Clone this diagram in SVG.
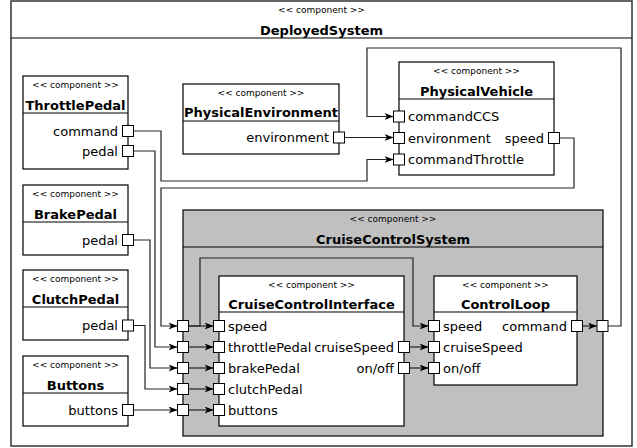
<svg xmlns="http://www.w3.org/2000/svg" width="637" height="448" viewBox="0 0 637 448">
<defs>
<marker id="arr" markerUnits="userSpaceOnUse" markerWidth="10" markerHeight="8" refX="9" refY="3.5" orient="auto">
<path d="M0,0 L9,3.5 L0,7 L2.5,3.5 z" fill="#000"/>
</marker>
<style>
.box{fill:#fff;stroke:#000;stroke-width:1.2}
.grey{fill:#c0c0c0;stroke:#000;stroke-width:1.2}
.outer{fill:#fff;stroke:#333;stroke-width:1.5}
.sep{stroke:#000;stroke-width:1.2;fill:none}
.port{fill:#fff;stroke:#000;stroke-width:1}
.cc{font-family:"DejaVu Sans",sans-serif;font-size:9px;text-anchor:middle;fill:#000}
.nm{font-family:"DejaVu Sans",sans-serif;font-size:13px;font-weight:bold;text-anchor:middle;fill:#000}
.pl{font-family:"DejaVu Sans",sans-serif;font-size:13px;fill:#000}
.r{text-anchor:end}
.c{fill:none;stroke:#222;stroke-width:1.2}
.a{marker-end:url(#arr)}
</style>
</defs>

<g id="DeployedSystem">
<rect class="outer" x="11" y="1" width="621" height="445"/>
<line class="sep" x1="11" y1="38" x2="632" y2="38"/>
<text class="cc" x="321.5" y="13">&lt;&lt; component &gt;&gt;</text>
<text class="nm" x="321.5" y="35">DeployedSystem</text>
</g>

<g id="ThrottlePedal">
<rect class="box" x="23" y="76" width="105" height="93"/>
<line class="sep" x1="23" y1="113" x2="128" y2="113"/>
<text class="cc" x="75.5" y="88">&lt;&lt; component &gt;&gt;</text>
<text class="nm" x="75.5" y="110">ThrottlePedal</text>
<text class="pl r" x="118" y="135.5">command</text>
<text class="pl r" x="118" y="155.5">pedal</text>
<rect class="port" x="122.5" y="125.5" width="11" height="11"/>
<rect class="port" x="122.5" y="145.5" width="11" height="11"/>
</g>

<g id="BrakePedal">
<rect class="box" x="23" y="185" width="105" height="70"/>
<line class="sep" x1="23" y1="222" x2="128" y2="222"/>
<text class="cc" x="75.5" y="197">&lt;&lt; component &gt;&gt;</text>
<text class="nm" x="75.5" y="219">BrakePedal</text>
<text class="pl r" x="118" y="244.5">pedal</text>
<rect class="port" x="122.5" y="234.5" width="11" height="11"/>
</g>

<g id="ClutchPedal">
<rect class="box" x="23" y="270" width="105" height="70"/>
<line class="sep" x1="23" y1="307" x2="128" y2="307"/>
<text class="cc" x="75.5" y="282">&lt;&lt; component &gt;&gt;</text>
<text class="nm" x="75.5" y="304">ClutchPedal</text>
<text class="pl r" x="118" y="330">pedal</text>
<rect class="port" x="122.5" y="320" width="11" height="11"/>
</g>

<g id="Buttons">
<rect class="box" x="23" y="356" width="105" height="70"/>
<line class="sep" x1="23" y1="393" x2="128" y2="393"/>
<text class="cc" x="75.5" y="368">&lt;&lt; component &gt;&gt;</text>
<text class="nm" x="75.5" y="390">Buttons</text>
<text class="pl r" x="118" y="414.5">buttons</text>
<rect class="port" x="122.5" y="404.5" width="11" height="11"/>
</g>

<g id="PhysicalEnvironment">
<rect class="box" x="183" y="84" width="156" height="70"/>
<line class="sep" x1="183" y1="121" x2="339" y2="121"/>
<text class="cc" x="261" y="96">&lt;&lt; component &gt;&gt;</text>
<text class="nm" x="261" y="117">PhysicalEnvironment</text>
<text class="pl r" x="329" y="142">environment</text>
<rect class="port" x="333.5" y="132" width="11" height="11"/>
</g>

<g id="PhysicalVehicle">
<rect class="box" x="399" y="62" width="155" height="113"/>
<line class="sep" x1="399" y1="99" x2="554" y2="99"/>
<text class="cc" x="476.5" y="74">&lt;&lt; component &gt;&gt;</text>
<text class="nm" x="476.5" y="96">PhysicalVehicle</text>
<text class="pl" x="408" y="121">commandCCS</text>
<text class="pl" x="408" y="142.5">environment</text>
<text class="pl" x="408" y="164">commandThrottle</text>
<text class="pl r" x="544" y="142.5">speed</text>
<rect class="port" x="393.5" y="111" width="11" height="11"/>
<rect class="port" x="393.5" y="132.5" width="11" height="11"/>
<rect class="port" x="393.5" y="154" width="11" height="11"/>
<rect class="port" x="548.5" y="132.5" width="11" height="11"/>
</g>

<g id="CruiseControlSystem">
<rect class="grey" x="183" y="210" width="420" height="226"/>
<line class="sep" x1="183" y1="247" x2="603" y2="247"/>
<text class="cc" x="393" y="222">&lt;&lt; component &gt;&gt;</text>
<text class="nm" x="393" y="244">CruiseControlSystem</text>
<rect class="port" x="177.5" y="320.5" width="11" height="11"/>
<rect class="port" x="177.5" y="341.5" width="11" height="11"/>
<rect class="port" x="177.5" y="362.5" width="11" height="11"/>
<rect class="port" x="177.5" y="383.5" width="11" height="11"/>
<rect class="port" x="177.5" y="404.5" width="11" height="11"/>
<rect class="port" x="597" y="320.5" width="11" height="11"/>
</g>

<g id="CruiseControlInterface">
<rect class="box" x="219" y="276" width="185" height="150"/>
<line class="sep" x1="219" y1="312" x2="404" y2="312"/>
<text class="cc" x="311.5" y="288">&lt;&lt; component &gt;&gt;</text>
<text class="nm" x="311.5" y="309">CruiseControlInterface</text>
<text class="pl" x="228" y="330.5">speed</text>
<text class="pl" x="228" y="351.5">throttlePedal</text>
<text class="pl" x="228" y="372.5">brakePedal</text>
<text class="pl" x="228" y="393.5">clutchPedal</text>
<text class="pl" x="228" y="414.5">buttons</text>
<text class="pl r" x="394" y="351.5">cruiseSpeed</text>
<text class="pl r" x="394" y="372.5">on/off</text>
<rect class="port" x="213.5" y="320.5" width="11" height="11"/>
<rect class="port" x="213.5" y="341.5" width="11" height="11"/>
<rect class="port" x="213.5" y="362.5" width="11" height="11"/>
<rect class="port" x="213.5" y="383.5" width="11" height="11"/>
<rect class="port" x="213.5" y="404.5" width="11" height="11"/>
<rect class="port" x="398.5" y="341.5" width="11" height="11"/>
<rect class="port" x="398.5" y="362.5" width="11" height="11"/>
</g>

<g id="ControlLoop">
<rect class="box" x="434" y="276" width="143" height="109"/>
<line class="sep" x1="434" y1="312" x2="577" y2="312"/>
<text class="cc" x="505.5" y="288">&lt;&lt; component &gt;&gt;</text>
<text class="nm" x="505.5" y="309">ControlLoop</text>
<text class="pl" x="443" y="330.5">speed</text>
<text class="pl" x="443" y="351.5">cruiseSpeed</text>
<text class="pl" x="443" y="372.5">on/off</text>
<text class="pl r" x="567" y="330.5">command</text>
<rect class="port" x="428.5" y="320.5" width="11" height="11"/>
<rect class="port" x="428.5" y="341.5" width="11" height="11"/>
<rect class="port" x="428.5" y="362.5" width="11" height="11"/>
<rect class="port" x="571.5" y="320.5" width="11" height="11"/>
</g>

<g id="connectors">
<polyline class="c a" points="133.5,131 161,131 161,181 367,181 367,159.5 393.5,159.5"/>
<polyline class="c a" points="133.5,151 155,151 155,347 177.5,347"/>
<polyline class="c a" points="133.5,240 150,240 150,368 177.5,368"/>
<polyline class="c a" points="133.5,325.5 145,325.5 145,389 177.5,389"/>
<polyline class="c a" points="133.5,410 177.5,410"/>
<polyline class="c a" points="344.5,137.5 393.5,137.5"/>
<polyline class="c a" points="559.5,138 574,138 574,188 161,188 161,326 177.5,326"/>
<polyline class="c a" points="608,326 621,326 621,48 367,48 367,116.5 393.5,116.5"/>
<polyline class="c a" points="188.5,326 213.5,326"/>
<polyline class="c a" points="188.5,347 213.5,347"/>
<polyline class="c a" points="188.5,368 213.5,368"/>
<polyline class="c a" points="188.5,389 213.5,389"/>
<polyline class="c a" points="188.5,410 213.5,410"/>
<polyline class="c a" points="188.5,326 200,326 200,258 413,258 413,326 428.5,326"/>
<polyline class="c a" points="409.5,347 428.5,347"/>
<polyline class="c a" points="409.5,368 428.5,368"/>
<polyline class="c a" points="582.5,326 597,326"/>
</g>
</svg>
